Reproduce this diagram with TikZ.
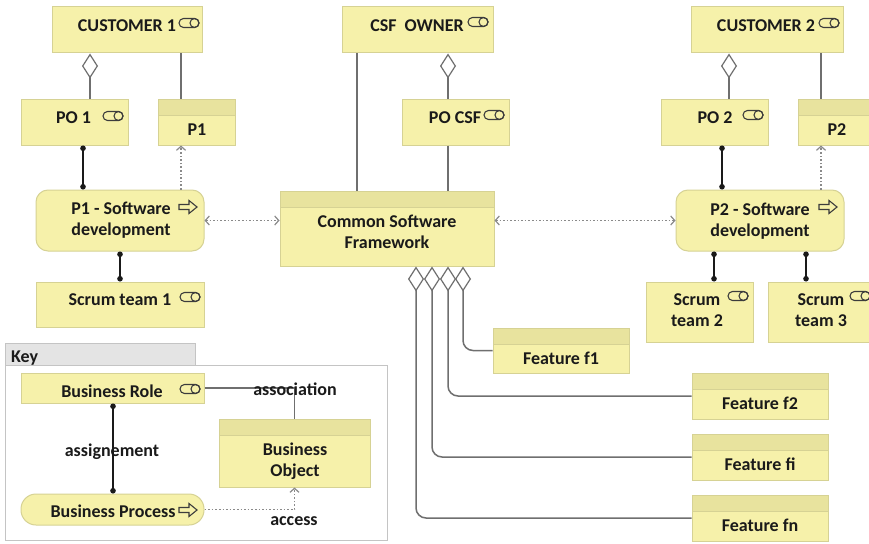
\documentclass[tikz,border=0pt]{standalone}
\usepackage{fontspec}
\setmainfont{Carlito}
\usetikzlibrary{arrows.meta,calc}
\definecolor{yfill}{HTML}{F6F1AA}
\definecolor{yhdr}{HTML}{E8E39E}
\definecolor{ybord}{HTML}{D6D294}
\definecolor{lgray}{HTML}{6F6F6F}
\definecolor{dgray}{HTML}{8A8A8A}
\definecolor{keytab}{HTML}{E4E4E4}
\definecolor{keybord}{HTML}{C4C4C4}
\definecolor{ink}{HTML}{1A1A1A}
\begin{document}
\begin{tikzpicture}[x=1pt,y=-1pt,
  box/.style={draw=ybord,fill=yfill,line width=1pt,inner sep=0pt},
  sz/.style 2 args={minimum width=#1,minimum height=#2},
  rolebox/.style={box},
  procbox/.style={box,rounded corners=12pt},
  objbox/.style={box,path picture={
     \fill[yhdr] (path picture bounding box.north west) rectangle ([yshift=-16pt]path picture bounding box.north east);
     \draw[ybord,line width=0.8pt] ([yshift=-16pt]path picture bounding box.north west) -- ([yshift=-16pt]path picture bounding box.north east);}},
  txt/.style={font=\bfseries\fontsize{18}{21}\selectfont,align=center,inner sep=0pt,text=ink,anchor=base},
  assoc/.style={draw=lgray,line width=1.5pt},
  agg/.style={draw=lgray,line width=1.5pt,{Diamond[length=25pt,width=16pt,fill=white,line width=1.2pt]}-},
  assign/.style={draw=ink,line width=1.5pt,{Circle[length=5.5pt]}-{Circle[length=5.5pt]}},
  acc/.style={draw=dgray,line width=1.3pt,dash pattern=on 1.6pt off 2pt,-{Straight Barb[length=4pt,width=9pt,line width=1.2pt]}},
  accb/.style={draw=dgray,line width=1.3pt,dash pattern=on 1.6pt off 2pt,{Straight Barb[length=4pt,width=9pt,line width=1.2pt]}-{Straight Barb[length=4pt,width=9pt,line width=1.2pt]}},
  roleicon/.pic={\draw[ink!85,line width=1.1pt,rounded corners=4.5pt] (-10,-4.5) rectangle (10,4.5);
                 \draw[ink!85,line width=1.1pt] (5.5,0) circle (4.5);},
  procicon/.pic={\draw[ink!85,line width=1.1pt,line join=miter] (-9,-2.5) -- (1,-2.5) -- (1,-6.5) -- (9,0) -- (1,6.5) -- (1,2.5) -- (-9,2.5) -- cycle;}
]
\fill[white] (0,0) rectangle (869,543);
\useasboundingbox (0,0) rectangle (869,543);
\clip (0,0) rectangle (869,543);

% ---------- Key frame ----------
\node[draw=keybord,fill=keytab,line width=0.8pt,sz={190}{22},inner sep=0pt] (keytab) at (100,354) {};
\node[draw=keybord,fill=white,line width=0.8pt,sz={382}{175},inner sep=0pt] (keybody) at (196,452.5) {};
\node[txt,anchor=base west] (keyt) at (11,362) {Key};

% ---------- nodes ----------
\node[rolebox,sz={150}{46}] (c1) at (127,30) {};
\node[rolebox,sz={107}{46}] (po1) at (74.5,122) {};
\node[objbox,sz={77}{46}] (p1) at (196.5,122) {};
\node[procbox,sz={168}{61}] (p1s) at (120,220.5) {};
\node[rolebox,sz={168}{45}] (st1) at (120,304.5) {};
\node[rolebox,sz={151}{46}] (cso) at (417.5,30) {};
\node[rolebox,sz={107}{46}] (pocsf) at (455.5,122) {};
\node[objbox,sz={214}{75}] (csf) at (387,228.5) {};
\node[rolebox,sz={152}{46}] (c2) at (767,30) {};
\node[rolebox,sz={107}{46}] (po2) at (714.5,122) {};
\node[objbox,sz={77}{46}] (p2) at (836.5,122) {};
\node[procbox,sz={168}{61}] (p2s) at (760,220.5) {};
\node[rolebox,sz={107}{60}] (st2) at (699.5,312) {};
\node[rolebox,sz={107}{60}] (st3) at (821.5,312) {};
\node[objbox,sz={136}{45}] (f1) at (561,350.5) {};
\node[objbox,sz={136}{46}] (f2) at (760,396) {};
\node[objbox,sz={136}{46}] (fi) at (760,457) {};
\node[objbox,sz={136}{46}] (fn) at (760,518) {};
\node[rolebox,sz={183}{30}] (br) at (112.5,388) {};
\node[procbox,rounded corners=15pt,sz={183}{31}] (bp) at (112.5,509.5) {};
\node[objbox,sz={151}{68}] (bo) at (294.5,453) {};

% ---------- texts (multi-line: base = last line) ----------
\node[txt] (c1t) at (127,32) {CUSTOMER 1};
\node[txt] (po1t) at (73.5,123) {PO 1};
\node[txt] (p1t) at (197,135) {P1};
\node[txt] (p1st) at (121,235) {P1 - Software\\development};
\node[txt] (st1t) at (120,305) {Scrum team 1};
\node[txt] (csot) at (417,32) {CSF\ \ OWNER};
\node[txt] (pocsft) at (455,123) {PO CSF};
\node[txt] (csft) at (387,248) {Common Software\\Framework};
\node[txt] (c2t) at (766,32) {CUSTOMER 2};
\node[txt] (po2t) at (715,123) {PO 2};
\node[txt] (p2t) at (837,135) {P2};
\node[txt] (p2st) at (760,236) {P2 - Software\\development};
\node[txt] (st2t) at (697,326) {Scrum\\team 2};
\node[txt] (st3t) at (821,326) {Scrum\\team 3};
\node[txt] (f1t) at (561,364) {Feature f1};
\node[txt] (f2t) at (760,409) {Feature f2};
\node[txt] (fit) at (760,470) {Feature fi};
\node[txt] (fnt) at (760,531) {Feature fn};
\node[txt] (brt) at (112,397) {Business Role};
\node[txt] (bpt) at (113,517) {Business Process};
\node[txt] (bot) at (295,476) {Business\\Object};

% ---------- icons ----------
\pic at (189,23) {roleicon};
\pic at (113,116) {roleicon};
\pic at (478,22) {roleicon};
\pic at (494,115) {roleicon};
\pic at (829,23) {roleicon};
\pic at (753,115) {roleicon};
\pic at (190,297) {roleicon};
\pic at (738,296) {roleicon};
\pic at (860,296) {roleicon};
\pic at (190,389) {roleicon};
\pic at (188,207) {procicon};
\pic at (828,207) {procicon};
\pic at (188,510) {procicon};

% ---------- x positions of connectors ----------
\coordinate (xa1) at (90,0);
\coordinate (xa2) at (181,0);
\coordinate (xa3) at (83,0);
\coordinate (xa4) at (357,0);
\coordinate (xa5) at (448,0);
\coordinate (xa6) at (729,0);
\coordinate (xa7) at (821,0);
\coordinate (xa8) at (722,0);
\coordinate (xa9) at (714,0);
\coordinate (xa10) at (806,0);
\coordinate (xa11) at (113,0);
\coordinate (xf1) at (463,0);
\coordinate (xf2) at (448,0);
\coordinate (xfi) at (432,0);
\coordinate (xfn) at (416,0);

% ---------- connectors ----------
\draw[agg] (c1.south -| xa1) -- (po1.north -| xa1);
\draw[assoc] (c1.south -| xa2) -- (p1.north -| xa2);
\draw[assign] (po1.south -| xa3) -- (p1s.north -| xa3);
\draw[acc] (p1s.north -| xa2) -- (p1.south -| xa2);
\draw[accb] (p1s.east) -- (csf.west |- p1s.east);
\draw[assign] (p1s.south) -- (st1.north);

\draw[assoc] (cso.south -| xa4) -- (csf.north -| xa4);
\draw[agg] (cso.south -| xa5) -- (pocsf.north -| xa5);
\draw[assoc] (pocsf.south -| xa5) -- (csf.north -| xa5);
\draw[accb] (csf.east |- p2s.west) -- (p2s.west);

\draw[agg] (c2.south -| xa6) -- (po2.north -| xa6);
\draw[assoc] (c2.south -| xa7) -- (p2.north -| xa7);
\draw[assign] (po2.south -| xa8) -- (p2s.north -| xa8);
\draw[acc] (p2s.north -| xa7) -- (p2.south -| xa7);
\draw[assign] (p2s.south -| xa9) -- (st2.north -| xa9);
\draw[assign] (p2s.south -| xa10) -- (st3.north -| xa10);

\draw[agg,rounded corners=10pt] (csf.south -| xf1) |- (f1.west);
\draw[agg,rounded corners=10pt] (csf.south -| xf2) |- (f2.west);
\draw[agg,rounded corners=10pt] (csf.south -| xfi) |- (fi.west);
\draw[agg,rounded corners=10pt] (csf.south -| xfn) |- (fn.west);

% key connectors
\draw[assign] (br.south -| xa11) -- (bp.north -| xa11);
\draw[assoc] (br.east) -| (bo.north);
\draw[acc] (bp.east) -| (bo.south);
\node[txt] (asgl) at (112,456) {assignement};
\node[txt] (ascl) at (295,395) {association};
\node[txt] (accl) at (294,525) {access};
\end{tikzpicture}
\end{document}
